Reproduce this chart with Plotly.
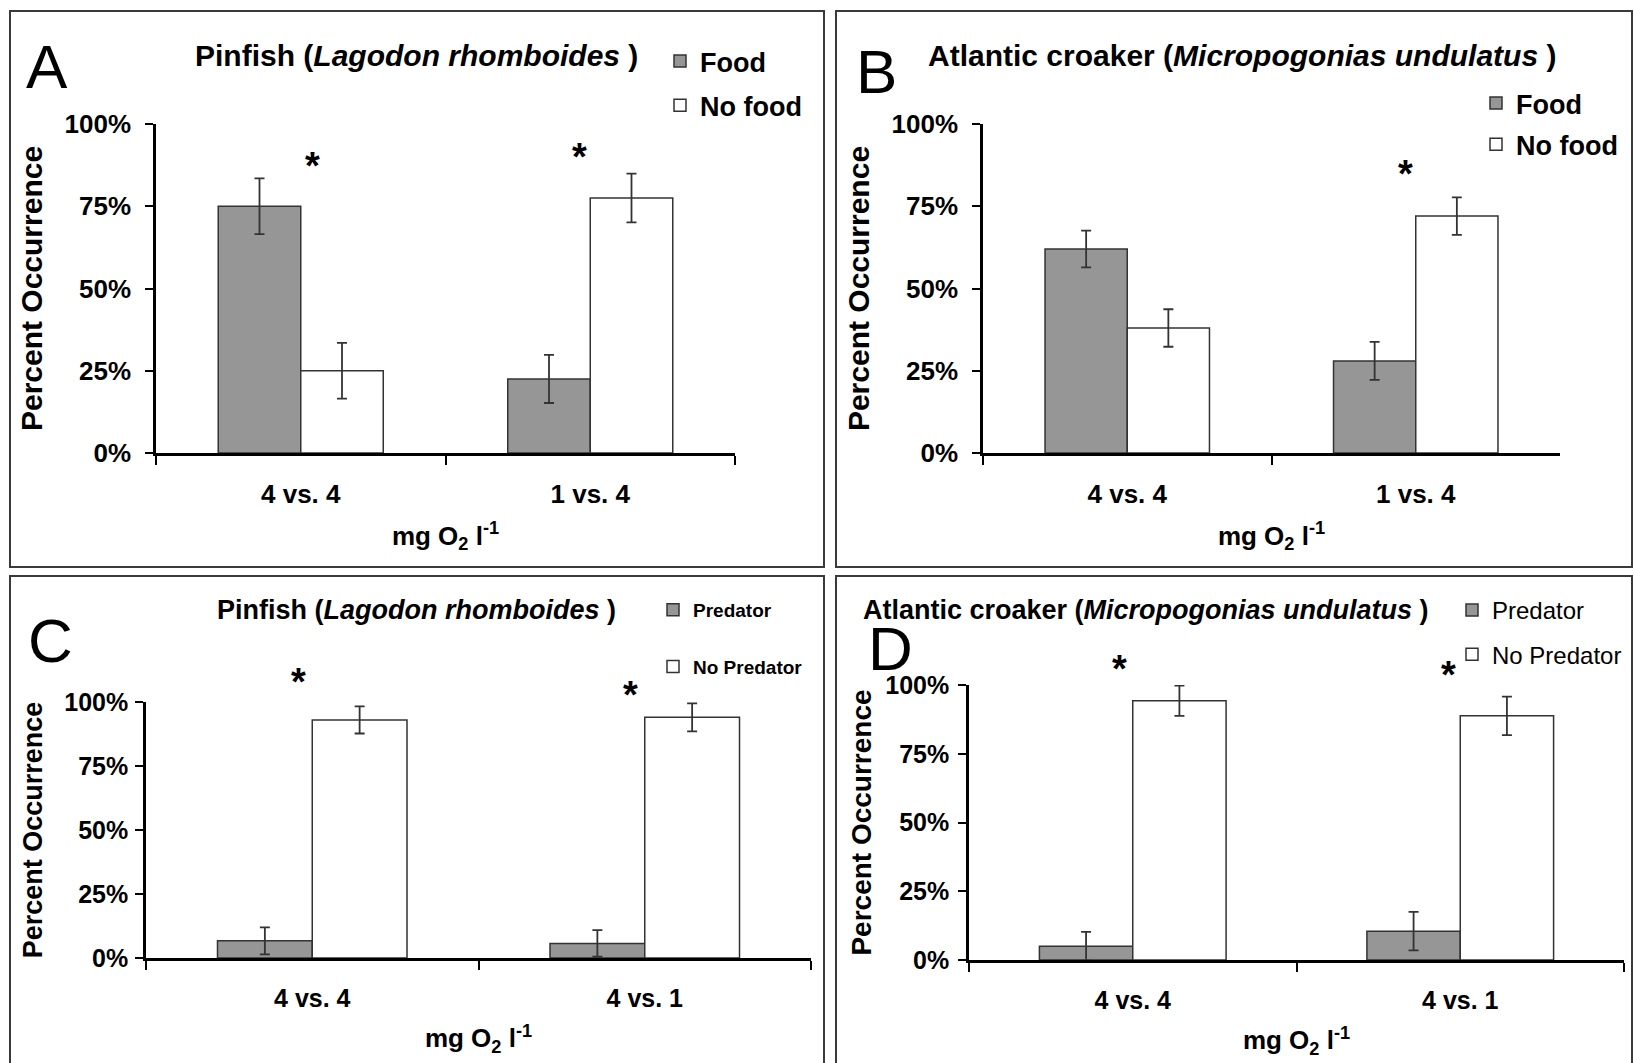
import plotly.graph_objects as go

# --- data: percent occurrence (mean) and error (+/-) ---
food_cats = ['4 vs. 4', '1 vs. 4']
pred_cats = ['4 vs. 4', '4 vs. 1']

pinfish_food = [75.0, 22.5]
pinfish_food_err = [8.5, 7.3]
pinfish_nofood = [25.0, 77.5]
pinfish_nofood_err = [8.5, 7.4]

croaker_food = [62.0, 28.0]
croaker_food_err = [5.6, 5.8]
croaker_nofood = [38.0, 72.0]
croaker_nofood_err = [5.7, 5.7]

pinfish_pred = [6.7, 5.7]
pinfish_pred_err = [5.3, 5.2]
pinfish_nopred = [93.0, 94.0]
pinfish_nopred_err = [5.3, 5.5]

croaker_pred = [5.0, 10.5]
croaker_pred_err = [5.2, 7.0]
croaker_nopred = [94.3, 88.8]
croaker_nopred_err = [5.5, 7.0]

y_ticks = [0, 25, 50, 75, 100]
y_tick_text = ['0%', '25%', '50%', '75%', '100%']

W, H = 1634, 1063
FONT = "Liberation Sans, Arial, Helvetica, sans-serif"
GRAY = "#969696"
EDGE = "#333333"


def px(x):
    return x / W


def py(y):
    return 1 - y / H


# layout of each panel, in page pixels
panels = [
    dict(n=1, cats=food_cats, names=('Food', 'No food'),
         vals=(pinfish_food, pinfish_nofood), errs=(pinfish_food_err, pinfish_nofood_err),
         box=(156, 735, 124, 453), frame=(10, 824, 11, 567),
         title="<b>Pinfish (<i>Lagodon rhomboides</i> )</b>", title_xy=(416, 55), title_size=30,
         letter='A', letter_xy=(47, 67),
         legend=dict(x=660, y=37, size=27, weight='bold', gap=6),
         stars=[(0, 88.8, 12), (1, 91.6, -11)],
         tick_size=26, ytitle_size=30, ystand=(9, 14)),
    dict(n=2, cats=food_cats, names=('Food', 'No food'),
         vals=(croaker_food, croaker_nofood), errs=(croaker_food_err, croaker_nofood_err),
         box=(983, 1560, 124, 453), frame=(836, 1632, 11, 567),
         title="<b>Atlantic croaker (<i>Micropogonias undulatus</i> )</b>", title_xy=(1242, 55), title_size=30,
         letter='B', letter_xy=(876, 72),
         legend=dict(x=1476, y=79, size=27, weight='bold', gap=3),
         stars=[(1, 86.3, -10)],
         tick_size=26, ytitle_size=30, ystand=(9, 14)),
    dict(n=3, cats=pred_cats, names=('Predator', 'No Predator'),
         vals=(pinfish_pred, pinfish_nopred), errs=(pinfish_pred_err, pinfish_nopred_err),
         box=(146, 811, 702, 958), frame=(10, 824, 576, 1070),
         title="<b>Pinfish (<i>Lagodon rhomboides</i> )</b>", title_xy=(416, 610), title_size=27,
         letter='C', letter_xy=(50, 640),
         legend=dict(x=653, y=591, size=19, weight='bold', gap=29),
         stars=[(0, 109.7, -14), (1, 104.6, -14)],
         tick_size=25, ytitle_size=27, ystand=(2, 14)),
    dict(n=4, cats=pred_cats, names=('Predator', 'No Predator'),
         vals=(croaker_pred, croaker_nopred), errs=(croaker_pred_err, croaker_nopred_err),
         box=(969, 1624, 685, 960), frame=(836, 1632, 576, 1070),
         title="<b>Atlantic croaker (<i>Micropogonias undulatus</i> )</b>", title_xy=(1146, 610), title_size=27,
         letter='D', letter_xy=(890, 648),
         legend=dict(x=1452, y=588, size=24, weight='normal', gap=10),
         stars=[(0, 107.6, -13), (1, 105.5, -12)],
         tick_size=25, ytitle_size=28, ystand=(4, 6)),
]

fig = go.Figure()
annotations = []
shapes = []
layout = {}

for p in panels:
    n = p['n']
    sx = '' if n == 1 else str(n)
    leg = 'legend' if n == 1 else f'legend{n}'
    fills = (GRAY, 'white')
    for k in range(2):
        fig.add_trace(go.Bar(
            x=p['cats'], y=p['vals'][k],
            name=p['names'][k],
            marker=dict(color=fills[k], line=dict(color=EDGE, width=1.5)),
            error_y=dict(type='data', array=p['errs'][k], color=EDGE, thickness=1.8, width=5),
            xaxis='x' + sx, yaxis='y' + sx,
            legend=leg, legendgroup=f'{n}-{k}',
        ))

    x0, x1, y0, y1 = p['box']
    tick_font = dict(family=FONT, size=p['tick_size'], color='black', weight='bold')
    layout['xaxis' + sx] = dict(
        domain=[px(x0), px(x1)], anchor='y' + sx, type='category', range=[-0.5, 1.5],
        showline=True, linecolor='black', linewidth=2.5,
        ticks='outside', tickson='boundaries', ticklen=9, tickwidth=2, tickcolor='black',
        tickfont=tick_font, ticklabelstandoff=16,
        title=dict(text='<b>mg O<sub>2</sub> l<sup>-1</sup></b>', standoff=19,
                   font=dict(family=FONT, size=26, color='black')),
        showgrid=False, zeroline=False, fixedrange=True,
    )
    layout['yaxis' + sx] = dict(
        domain=[py(y1), py(y0)], anchor='x' + sx, range=[0, 100],
        tickmode='array', tickvals=y_ticks, ticktext=y_tick_text,
        showline=True, linecolor='black', linewidth=2.5,
        ticks='outside', ticklen=8, tickwidth=2, tickcolor='black',
        tickfont=tick_font, ticklabelstandoff=p['ystand'][0],
        title=dict(text='Percent Occurrence', standoff=p['ystand'][1],
                   font=dict(family=FONT, size=p['ytitle_size'], color='black', weight='bold')),
        showgrid=False, zeroline=False, fixedrange=True,
    )

    lg = p['legend']
    layout[leg] = dict(
        x=px(lg['x']), y=py(lg['y']), xanchor='left', yanchor='top',
        bgcolor='rgba(0,0,0,0)', tracegroupgap=lg['gap'], traceorder='grouped',
        font=dict(family=FONT, size=lg['size'], color='black', weight=lg['weight']),
    )

    # panel frame
    fx0, fx1, fy0, fy1 = p['frame']
    shapes.append(dict(type='rect', xref='paper', yref='paper',
                       x0=px(fx0), x1=px(fx1), y0=py(fy1), y1=py(fy0),
                       line=dict(color='#3a3a3a', width=2), fillcolor='rgba(0,0,0,0)'))

    # title and panel letter
    tx, ty = p['title_xy']
    annotations.append(dict(text=p['title'], xref='paper', yref='paper', x=px(tx), y=py(ty),
                            xanchor='center', yanchor='middle', showarrow=False,
                            font=dict(family=FONT, size=p['title_size'], color='black')))
    lx, ly = p['letter_xy']
    annotations.append(dict(text=p['letter'], xref='paper', yref='paper', x=px(lx), y=py(ly),
                            xanchor='center', yanchor='middle', showarrow=False,
                            font=dict(family=FONT, size=62, color='black')))

    # significance asterisks (height given as percent on the panel's y scale)
    for ci, ylev, shift in p['stars']:
        annotations.append(dict(text='<b>*</b>', xref='x' + sx, yref=f'y{sx} domain',
                                x=p['cats'][ci], y=ylev / 100, xshift=shift, yshift=-5,
                                xanchor='center', yanchor='middle', showarrow=False,
                                font=dict(family=FONT, size=38, color='black')))

fig.update_layout(**layout)
fig.update_layout(
    width=W, height=H,
    margin=dict(l=0, r=0, t=0, b=0, pad=0, autoexpand=False),
    paper_bgcolor='white', plot_bgcolor='white',
    barmode='group', bargap=0.43, bargroupgap=0,
    showlegend=True,
    annotations=annotations, shapes=shapes,
    font=dict(family=FONT, color='black'),
)

# the page body has a default 8px margin; drop it so the figure fills the window
fig.write_html("out.html",
               config={'displayModeBar': False},
               post_script="document.body.style.margin='0px';document.body.style.overflow='hidden';")
